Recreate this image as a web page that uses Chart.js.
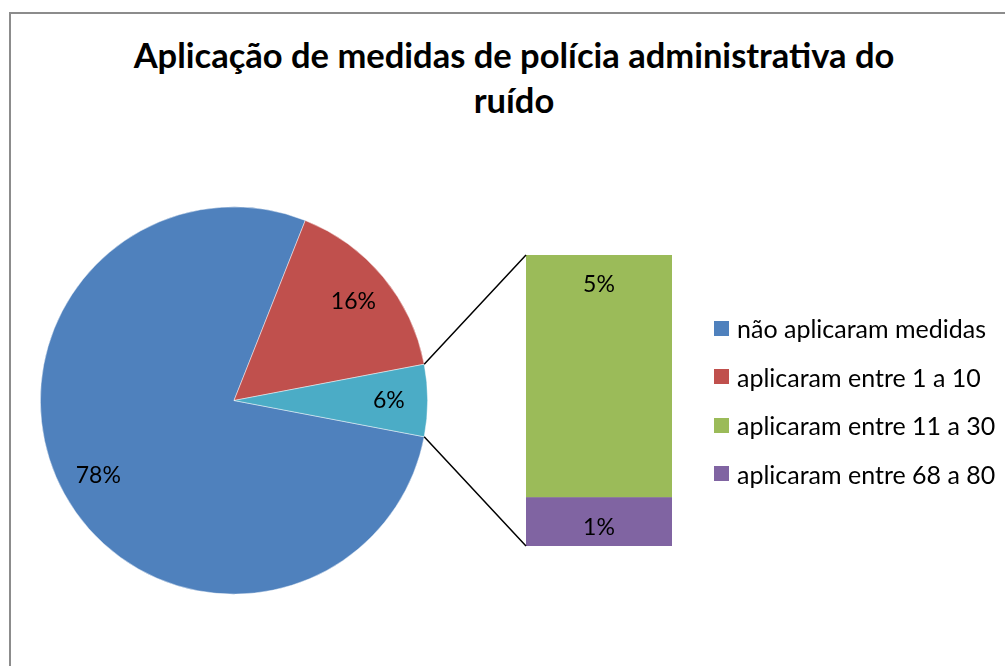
<!DOCTYPE html>
<html lang="pt">
<head>
<meta charset="utf-8">
<title>Aplicação de medidas de polícia administrativa do ruído</title>
<script src="https://cdn.jsdelivr.net/npm/chart.js@4.4.0/dist/chart.umd.min.js"></script>
<style>
  html, body { margin: 0; padding: 0; background: #fff; overflow: hidden; }
  #wrap { position: relative; width: 1005px; height: 666px; overflow: hidden; font-family: Lato, "Open Sans", sans-serif; }
  #frame { position: absolute; left: 9px; top: 12px; width: 1100px; height: 800px;
           border-top: 2px solid #8c8c8c; border-left: 2px solid #8c8c8c; }
  #titulo { position: absolute; left: 0; top: 32px; width: 1028px; text-align: center;
            font-weight: bold; font-size: 34.5px; line-height: 45px; color: #000; }
  #pieChart { position: absolute; left: 40px; top: 206px; }
  #barChart { position: absolute; left: 0; top: 0; }
  #legenda { position: absolute; left: 714px; top: 304px; }
  .item { display: flex; align-items: center; height: 48.5px; font-size: 25px; color: #000; white-space: nowrap; }
  .item span.cor { width: 15px; height: 15px; margin-right: 8px; display: inline-block; }
</style>
</head>
<body>
<div id="wrap">
  <div id="frame"></div>
  <div id="titulo">Aplicação de medidas de polícia administrativa do<br>ruído</div>
  <canvas id="pieChart" width="388" height="389"></canvas>
  <canvas id="barChart" width="1005" height="666"></canvas>
  <div id="legenda"></div>
</div>
<script>
// Dados (percentagens)
const pieLabels = ['não aplicaram medidas', 'aplicaram entre 1 a 10'];
const pieValues = [78, 16];
const pieColors = ['#4F81BD', '#C0504D'];

// Detalhe da fatia "Outro", mostrado na barra (de baixo para cima)
const barLabels = ['aplicaram entre 68 a 80', 'aplicaram entre 11 a 30'];
const barValues = [1, 5];
const barColors = ['#8064A2', '#9BBB59'];

const otherColor = '#4BACC6';
const otherValue = barValues.reduce((a, b) => a + b, 0);
const total = pieValues.reduce((a, b) => a + b, 0) + otherValue;

// Rodar o gráfico para que a fatia "Outro" fique centrada à direita
const rotation = 90 + (otherValue / total) * 180;

const labelFont = '23px Lato';

// Etiquetas de percentagem nas fatias
const pieLabelsPlugin = {
    id: 'pieLabels',
    afterDatasetsDraw(chart) {
        const ctx = chart.ctx;
        const meta = chart.getDatasetMeta(0);
        const values = chart.data.datasets[0].data;
        ctx.save();
        ctx.font = labelFont;
        ctx.fillStyle = '#000';
        ctx.textAlign = 'center';
        ctx.textBaseline = 'middle';
        meta.data.forEach((arc, i) => {
            const p = arc.getProps(['x', 'y', 'startAngle', 'endAngle', 'outerRadius']);
            const mid = (p.startAngle + p.endAngle) / 2;
            const r = p.outerRadius * 0.8;
            ctx.fillText(values[i] + '%', p.x + Math.cos(mid) * r, p.y + Math.sin(mid) * r);
        });
        ctx.restore();
    }
};

const pieChart = new Chart(document.getElementById('pieChart').getContext('2d'), {
    type: 'pie',
    data: {
        labels: [...pieLabels, 'Outro'],
        datasets: [{
            data: [...pieValues, otherValue],
            backgroundColor: [...pieColors, otherColor],
            borderWidth: 0.75,
            borderColor: 'rgba(255,255,255,0.6)'
        }]
    },
    options: {
        responsive: false,
        animation: false,
        events: [],
        rotation: rotation,
        plugins: { legend: { display: false }, tooltip: { enabled: false } }
    },
    plugins: [pieLabelsPlugin]
});

// Linhas de ligação entre a fatia "Outro" e a barra, mais as etiquetas da barra
const barExtrasPlugin = {
    id: 'barExtras',
    afterDatasetsDraw(chart) {
        const ctx = chart.ctx;
        const pieCanvas = pieChart.canvas;
        const arc = pieChart.getDatasetMeta(0).data[2];
        const p = arc.getProps(['x', 'y', 'startAngle', 'endAngle', 'outerRadius']);
        const ox = pieCanvas.offsetLeft, oy = pieCanvas.offsetTop;

        const bottomBar = chart.getDatasetMeta(0).data[0];
        const topBar = chart.getDatasetMeta(1).data[0];
        const left = topBar.x - topBar.width / 2;

        ctx.save();
        ctx.strokeStyle = '#000';
        ctx.lineWidth = 1.5;
        ctx.beginPath();
        ctx.moveTo(ox + p.x + Math.cos(p.startAngle) * p.outerRadius, oy + p.y + Math.sin(p.startAngle) * p.outerRadius);
        ctx.lineTo(left, topBar.y);
        ctx.moveTo(ox + p.x + Math.cos(p.endAngle) * p.outerRadius, oy + p.y + Math.sin(p.endAngle) * p.outerRadius);
        ctx.lineTo(left, bottomBar.base);
        ctx.stroke();

        // percentagens dentro de cada segmento, perto do topo
        ctx.font = labelFont;
        ctx.fillStyle = '#000';
        ctx.textAlign = 'center';
        ctx.textBaseline = 'middle';
        chart.data.datasets.forEach((ds, i) => {
            const bar = chart.getDatasetMeta(i).data[0];
            ctx.fillText(ds.data[0] + '%', bar.x, bar.y + 30);
        });
        ctx.restore();
    }
};

const barChart = new Chart(document.getElementById('barChart').getContext('2d'), {
    type: 'bar',
    data: {
        labels: [''],
        datasets: barValues.map((v, i) => ({
            label: barLabels[i],
            data: [v],
            backgroundColor: barColors[i],
            borderWidth: 0,
            categoryPercentage: 1,
            barPercentage: 1
        }))
    },
    options: {
        responsive: false,
        animation: false,
        events: [],
        layout: { padding: { left: 526, right: 333, top: 255, bottom: 120 } },
        scales: {
            x: { stacked: true, display: false },
            y: { stacked: true, display: false, min: 0, max: otherValue }
        },
        plugins: { legend: { display: false }, tooltip: { enabled: false } }
    },
    plugins: [barExtrasPlugin]
});

// Legenda: fatias principais seguidas das categorias da barra (de cima para baixo)
const legendItems = [
    ...pieLabels.map((l, i) => ({ label: l, color: pieColors[i] })),
    ...barLabels.map((l, i) => ({ label: l, color: barColors[i] })).reverse()
];
document.getElementById('legenda').innerHTML = legendItems
    .map(it => `<div class="item"><span class="cor" style="background:${it.color}"></span>${it.label}</div>`)
    .join('');
</script>
</body>
</html>
